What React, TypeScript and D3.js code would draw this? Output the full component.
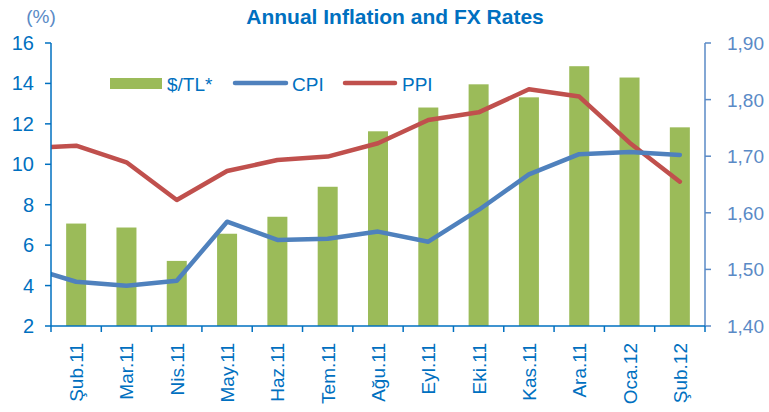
import React from "react";
import * as d3 from "d3";

const months = ["Şub.11", "Mar.11", "Nis.11", "May.11", "Haz.11", "Tem.11", "Ağu.11", "Eyl.11", "Eki.11", "Kas.11", "Ara.11", "Oca.12", "Şub.12"];
const fxRate = [1.581, 1.574, 1.515, 1.563, 1.593, 1.646, 1.744, 1.786, 1.827, 1.804, 1.859, 1.839, 1.751];
const cpi = [4.19, 3.99, 4.24, 7.16, 6.26, 6.32, 6.67, 6.17, 7.74, 9.5, 10.5, 10.61, 10.46];
const ppi = [10.92, 10.1, 8.23, 9.67, 10.21, 10.38, 11.04, 12.19, 12.57, 13.71, 13.35, 11.07, 9.14];
// previous month (Oca.11), only the stub of the lines is visible at the left edge
const cpiLead = 4.95;
const ppiLead = 10.8;
const leftTicks = [2, 4, 6, 8, 10, 12, 14, 16];
const rightTicks = [1.4, 1.5, 1.6, 1.7, 1.8, 1.9];

const W = 769;
const H = 412;
const margin = { top: 43, right: 64, bottom: 86, left: 51 };
const font = "'Liberation Sans', Arial, sans-serif";

export default function App() {
  const x0 = margin.left;
  const x1 = W - margin.right;
  const y0 = H - margin.bottom;
  const y1 = margin.top;

  const x = d3.scaleBand<string>().domain(months).range([x0, x1]).paddingInner(0);
  const yL = d3.scaleLinear().domain([2, 16]).range([y0, y1]);
  const yR = d3.scaleLinear().domain([1.4, 1.9]).range([y0, y1]);
  const bw = x.bandwidth();
  const barW = 20;
  const cx = (i: number) => x0 + bw * (i + 0.5);

  const line = d3
    .line<[number, number]>()
    .x((d) => d[0])
    .y((d) => yL(d[1]));

  const pts = (lead: number, vals: number[]): [number, number][] => [
    [cx(-1), lead],
    ...vals.map((v, i) => [cx(i), v] as [number, number]),
  ];

  const leftBlue = "#0070C0";
  const rightBlue = "#5A8AC6";

  return (
    <svg width={W} height={H} style={{ position: "absolute", left: 0, top: 0 }} fontFamily={font}>
      <defs>
        <clipPath id="plot">
          <rect x={x0} y={0} width={x1 - x0} height={y0} />
        </clipPath>
      </defs>
      <text x={395} y={24} textAnchor="middle" fontSize={21} fontWeight="bold" fill={leftBlue}>
        Annual Inflation and FX Rates
      </text>
      <text x={41} y={23} textAnchor="middle" fontSize={19} fill={rightBlue}>
        (%)
      </text>

      {/* bars on right axis */}
      {fxRate.map((v, i) => (
        <rect
          key={months[i]}
          x={cx(i) - barW / 2}
          y={yR(v)}
          width={barW}
          height={y0 - yR(v)}
          fill="#9BBB59"
        />
      ))}

      <g clipPath="url(#plot)">
        <path d={line(pts(ppiLead, ppi)) || ""} fill="none" stroke="#C0504D" strokeWidth={4.5} strokeLinejoin="round" strokeLinecap="round" />
        <path d={line(pts(cpiLead, cpi)) || ""} fill="none" stroke="#4F81BD" strokeWidth={4.5} strokeLinejoin="round" strokeLinecap="round" />
      </g>

      {/* left axis */}
      <line x1={x0} x2={x0} y1={y1} y2={y0} stroke={leftBlue} strokeWidth={1.5} />
      {leftTicks.map((t) => (
        <g key={t}>
          <line x1={x0 - 6} x2={x0} y1={yL(t)} y2={yL(t)} stroke={leftBlue} strokeWidth={1.5} />
          <text x={34} y={yL(t) + 7} textAnchor="end" fontSize={20} fill={leftBlue}>
            {t}
          </text>
        </g>
      ))}

      {/* right axis */}
      <line x1={x1} x2={x1} y1={y1} y2={y0} stroke={rightBlue} strokeWidth={1.5} />
      {rightTicks.map((t) => (
        <g key={t}>
          <line x1={x1} x2={x1 + 6} y1={yR(t)} y2={yR(t)} stroke={rightBlue} strokeWidth={1.5} />
          <text x={727} y={yR(t) + 7} fontSize={19} fill={rightBlue}>
            {d3.format(".2f")(t).replace(".", ",")}
          </text>
        </g>
      ))}

      {/* x axis */}
      <line x1={x0} x2={x1} y1={y0} y2={y0} stroke={leftBlue} strokeWidth={1.5} />
      {d3.range(months.length + 1).map((i) => (
        <line key={i} x1={x0 + bw * i} x2={x0 + bw * i} y1={y0} y2={y0 + 6} stroke={leftBlue} strokeWidth={1.5} />
      ))}
      {months.map((m, i) => (
        <text
          key={m}
          transform={`translate(${cx(i) + 7},${y0 + 17}) rotate(-90)`}
          textAnchor="end"
          fontSize={19}
          fill={leftBlue}
        >
          {m}
        </text>
      ))}

      {/* legend */}
      <rect x={110} y={78} width={52} height={11} fill="#9BBB59" />
      <text x={167} y={91} fontSize={19} fill={leftBlue}>$/TL*</text>
      <line x1={235} x2={286} y1={83} y2={83} stroke="#4F81BD" strokeWidth={4.5} strokeLinecap="round" />
      <text x={292} y={91} fontSize={19} fill={leftBlue}>CPI</text>
      <line x1={345} x2={395} y1={83} y2={83} stroke="#C0504D" strokeWidth={4.5} strokeLinecap="round" />
      <text x={402} y={91} fontSize={19} fill={leftBlue}>PPI</text>
    </svg>
  );
}
